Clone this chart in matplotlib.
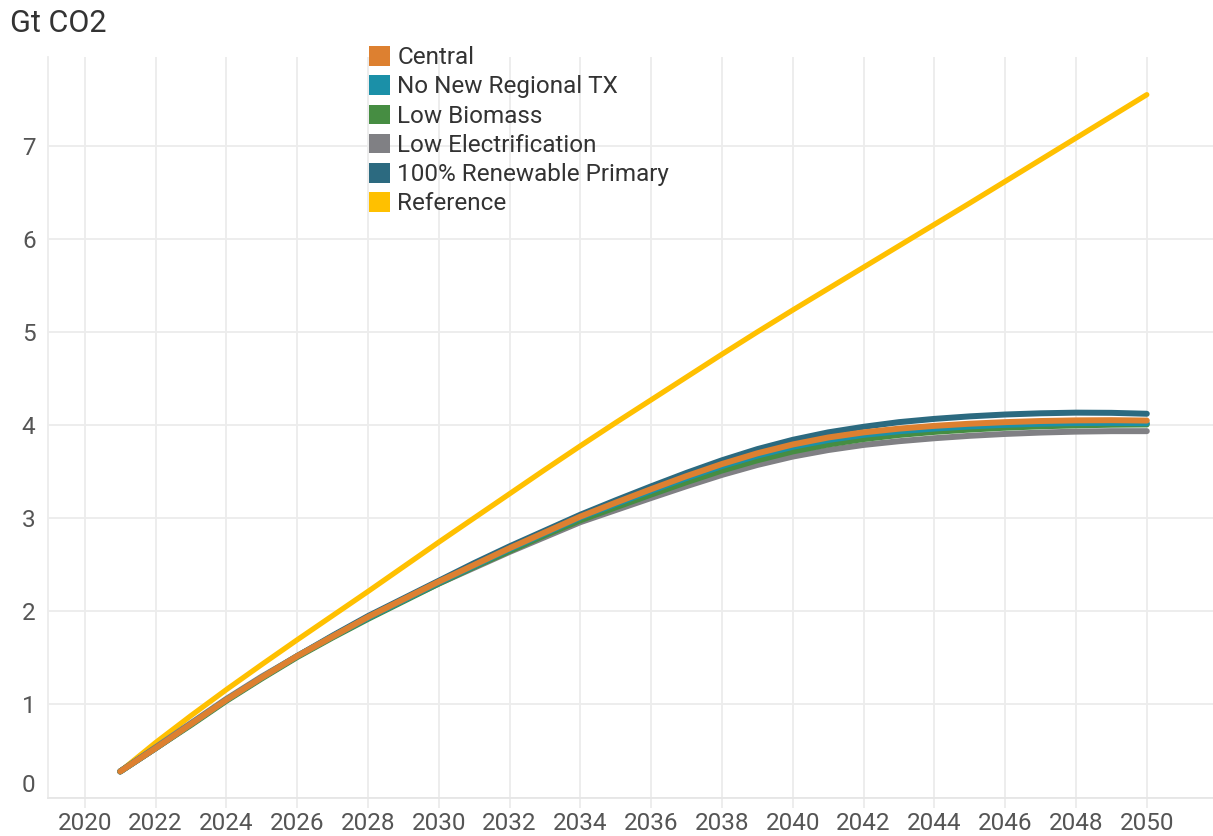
import matplotlib
matplotlib.use("Agg")
import matplotlib.pyplot as plt
from matplotlib.patches import Patch
from matplotlib.transforms import ScaledTranslation

plt.rcParams['font.family'] = ['Roboto', 'DejaVu Sans']

years = list(range(2021, 2051))

central = [0.28, 0.53, 0.79, 1.05, 1.29, 1.52, 1.73, 1.94, 2.13, 2.32,
           2.50, 2.68, 2.85, 3.02, 3.17, 3.315, 3.455, 3.585, 3.70, 3.795,
           3.87, 3.925, 3.965, 3.995, 4.018, 4.035, 4.047, 4.054, 4.056, 4.052]
no_new_tx = [0.28, 0.53, 0.79, 1.05, 1.29, 1.52, 1.73, 1.93, 2.12, 2.31,
             2.49, 2.67, 2.84, 3.01, 3.155, 3.297, 3.435, 3.563, 3.675, 3.77,
             3.843, 3.898, 3.937, 3.966, 3.989, 4.006, 4.018, 4.025, 4.027, 4.023]
low_biomass = [0.28, 0.53, 0.78, 1.04, 1.28, 1.51, 1.72, 1.92, 2.11, 2.30,
               2.48, 2.65, 2.82, 2.98, 3.12, 3.257, 3.39, 3.515, 3.625, 3.72,
               3.795, 3.853, 3.897, 3.93, 3.955, 3.975, 3.99, 4.00, 4.007, 4.01]
low_electrification = [0.28, 0.54, 0.80, 1.06, 1.30, 1.52, 1.73, 1.93, 2.12, 2.30,
                       2.47, 2.64, 2.80, 2.96, 3.09, 3.22, 3.347, 3.468, 3.575, 3.665,
                       3.735, 3.79, 3.83, 3.862, 3.888, 3.908, 3.923, 3.933, 3.938, 3.938]
renewable_100 = [0.28, 0.53, 0.79, 1.05, 1.29, 1.52, 1.74, 1.95, 2.14, 2.33,
                 2.52, 2.70, 2.87, 3.04, 3.195, 3.345, 3.49, 3.625, 3.745, 3.845,
                 3.925, 3.985, 4.035, 4.07, 4.097, 4.117, 4.13, 4.137, 4.135, 4.125]
reference = [0.28, 0.59, 0.88, 1.16, 1.43, 1.695, 1.955, 2.215, 2.48, 2.745,
             3.005, 3.265, 3.525, 3.78, 4.03, 4.275, 4.52, 4.765, 5.005, 5.24,
             5.47, 5.70, 5.93, 6.16, 6.39, 6.623, 6.856, 7.089, 7.322, 7.555]

series_names = ["Central", "No New Regional TX", "Low Biomass",
                "Low Electrification", "100% Renewable Primary", "Reference"]
series_values = [central, no_new_tx, low_biomass, low_electrification,
                 renewable_100, reference]
colors = ["#dd8030", "#1b90a8", "#468d42", "#808084", "#2c6a80", "#ffc000"]
widths = [4.3, 4.3, 4.3, 4.3, 4.3, 3.8]

x_ticks = list(range(2020, 2051, 2))
y_ticks = list(range(0, 8))

W, H = 1213, 836
fig = plt.figure(figsize=(W / 100, H / 100), dpi=100)
left_px, right_px, top_px, bottom_px = 48, 1213, 57, 797.5
ax = fig.add_axes([left_px / W, (H - bottom_px) / H,
                   (right_px - left_px) / W, (bottom_px - top_px) / H])

# draw in reverse order so Central is on top
n = len(series_names)
for i in reversed(range(n)):
    ax.plot(years, series_values[i], color=colors[i], linewidth=widths[i],
            solid_capstyle='round', solid_joinstyle='round',
            zorder=3 + (n - i))

ax.set_xlim(2018.96, 2051.87)
ax.set_ylim(0, 7.96)
ax.set_xticks(x_ticks)
ax.set_yticks(y_ticks)

grid_color = "#ececec"
ax.grid(True, color=grid_color, linewidth=1.3, zorder=0)
ax.set_axisbelow(True)
for s in ["top", "right"]:
    ax.spines[s].set_visible(False)
ax.spines["left"].set_color(grid_color)
ax.spines["left"].set_linewidth(1.3)
ax.spines["bottom"].set_color("#e6e6e6")
ax.spines["bottom"].set_linewidth(1.3)

ax.tick_params(axis='x', length=7, width=1.3, color=grid_color, pad=3.5,
               labelsize=17.5, labelcolor="#555555")
ax.tick_params(axis='y', length=0, pad=9, labelsize=17.5, labelcolor="#555555")

# shift the "0" label up a bit like in the original
for lbl in ax.get_yticklabels():
    if lbl.get_text() == "0":
        lbl.set_transform(lbl.get_transform() + ScaledTranslation(0, 14 / 100, fig.dpi_scale_trans))

fig.text(10 / W, 1 - 23 / H, "Gt CO2", fontsize=22, color="#333333",
         ha='left', va='center')

handles = [Patch(facecolor=c, edgecolor='none') for c in colors]
leg = ax.legend(handles, series_names, loc='upper left',
                bbox_to_anchor=(369 / W, 1 - 46 / H), bbox_transform=fig.transFigure,
                frameon=False, fontsize=17.5, handlelength=0.86, handleheight=0.86,
                handletextpad=0.3, labelspacing=0.25, borderpad=0, borderaxespad=0)
for t in leg.get_texts():
    t.set_color("#333333")

fig.savefig("out.png", dpi=100, facecolor="white")
